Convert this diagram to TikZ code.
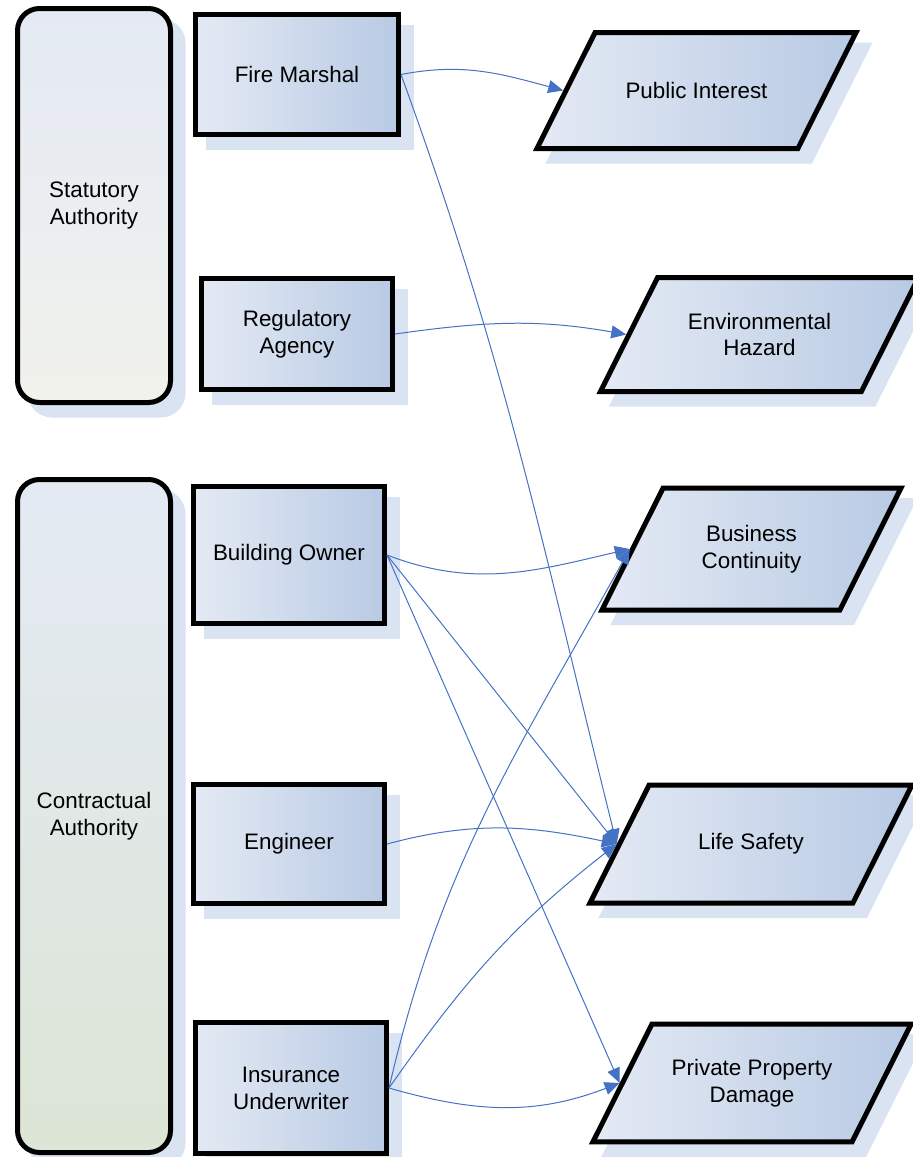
\documentclass[tikz,border=0pt]{standalone}
\usepackage{fontspec}
\setmainfont{Liberation Sans}
\usetikzlibrary{shapes.geometric,arrows.meta,shadows}
\definecolor{boxlight}{HTML}{E4EAF4}
\definecolor{boxdark}{HTML}{B8CAE4}
\definecolor{shadowblue}{HTML}{DAE3F1}
\definecolor{linkblue}{HTML}{4472C4}
\definecolor{statbottom}{HTML}{F1F2EC}
\definecolor{contbottom}{HTML}{DDE5D6}
\begin{document}
\begin{tikzpicture}[x=0.5pt,y=0.5pt,
  font=\fontsize{11.2}{13.4}\selectfont,
  block/.style={draw=black, line width=2.5pt, align=center, inner sep=0pt,
    drop shadow={shadow xshift=6.25pt, shadow yshift=-6.25pt, fill=shadowblue, draw=shadowblue, opacity=1}},
  authority/.style={block, rectangle, rounded corners=11pt, minimum width=76.5pt, top color=boxlight},
  actor/.style={block, rectangle, left color=boxlight, right color=boxdark},
  concern/.style={block, trapezium, trapezium left angle=63.4, trapezium right angle=116.6,
    trapezium stretches body, inner ysep=#1, left color=boxlight, right color=boxdark},
  link/.style={draw=linkblue, line width=0.5pt, -{Triangle[length=7.5pt,width=6.5pt]}}
]
\useasboundingbox (0,0) rectangle (913,-1157);

% authorities
\node[authority, minimum height=197pt, bottom color=statbottom] (statutory) at (94,-205.5) {Statutory\\Authority};
\node[authority, minimum height=336.5pt, bottom color=contbottom] (contractual) at (94,-816) {Contractual\\Authority};

% actors
\node[actor, minimum width=101.5pt, minimum height=60pt] (fire) at (297,-74.5) {Fire Marshal};
\node[actor, minimum width=95.5pt, minimum height=55.5pt] (regulator) at (297,-334) {Regulatory\\Agency};
\node[actor, minimum width=95.5pt, minimum height=68.5pt] (owner) at (289,-555) {Building Owner};
\node[actor, minimum width=95.5pt, minimum height=59.5pt] (engineer) at (289,-844) {Engineer};
\node[actor, minimum width=95.5pt, minimum height=65.5pt] (insurer) at (291,-1088) {Insurance\\Underwriter};

% concerns (half height as inner ysep, text as centred label)
\node[concern=29pt, minimum width=159.5pt, label={[align=center]center:Public Interest}] (pubint) at (696.5,-90.5) {};
\node[concern=28.5pt, minimum width=159pt, label={[align=center]center:Environmental\\Hazard}] (envhaz) at (759.5,-334.5) {};
\node[concern=30.5pt, minimum width=149.5pt, label={[align=center]center:Business\\Continuity}] (buscont) at (751.5,-549) {};
\node[concern=29.5pt, minimum width=161pt, label={[align=center]center:Life Safety}] (lifesafe) at (751,-844) {};
\node[concern=29.4pt, minimum width=159pt, label={[align=center]center:Private Property\\Damage}] (propdmg) at (752,-1083) {};

% links
\draw[link] (fire.east) to[out=11,in=165] (pubint.west);
\draw[link] (fire.east) to[out=-70,in=104] (lifesafe.west);
\draw[link] (regulator.east) to[out=8,in=170] (envhaz.west);
\draw[link] (owner.east) to[out=-21,in=193] (buscont.west);
\draw[link] (owner.east) -- (lifesafe.west);
\draw[link] (owner.east) -- (propdmg.west);
\draw[link] (engineer.east) to[out=15,in=168] (lifesafe.west);
\draw[link] (insurer.east) to[out=77,in=241] (buscont.west);
\draw[link] (insurer.east) to[out=55,in=218] (lifesafe.west);
\draw[link] (insurer.east) to[out=-16,in=201] (propdmg.west);
\end{tikzpicture}
\end{document}
